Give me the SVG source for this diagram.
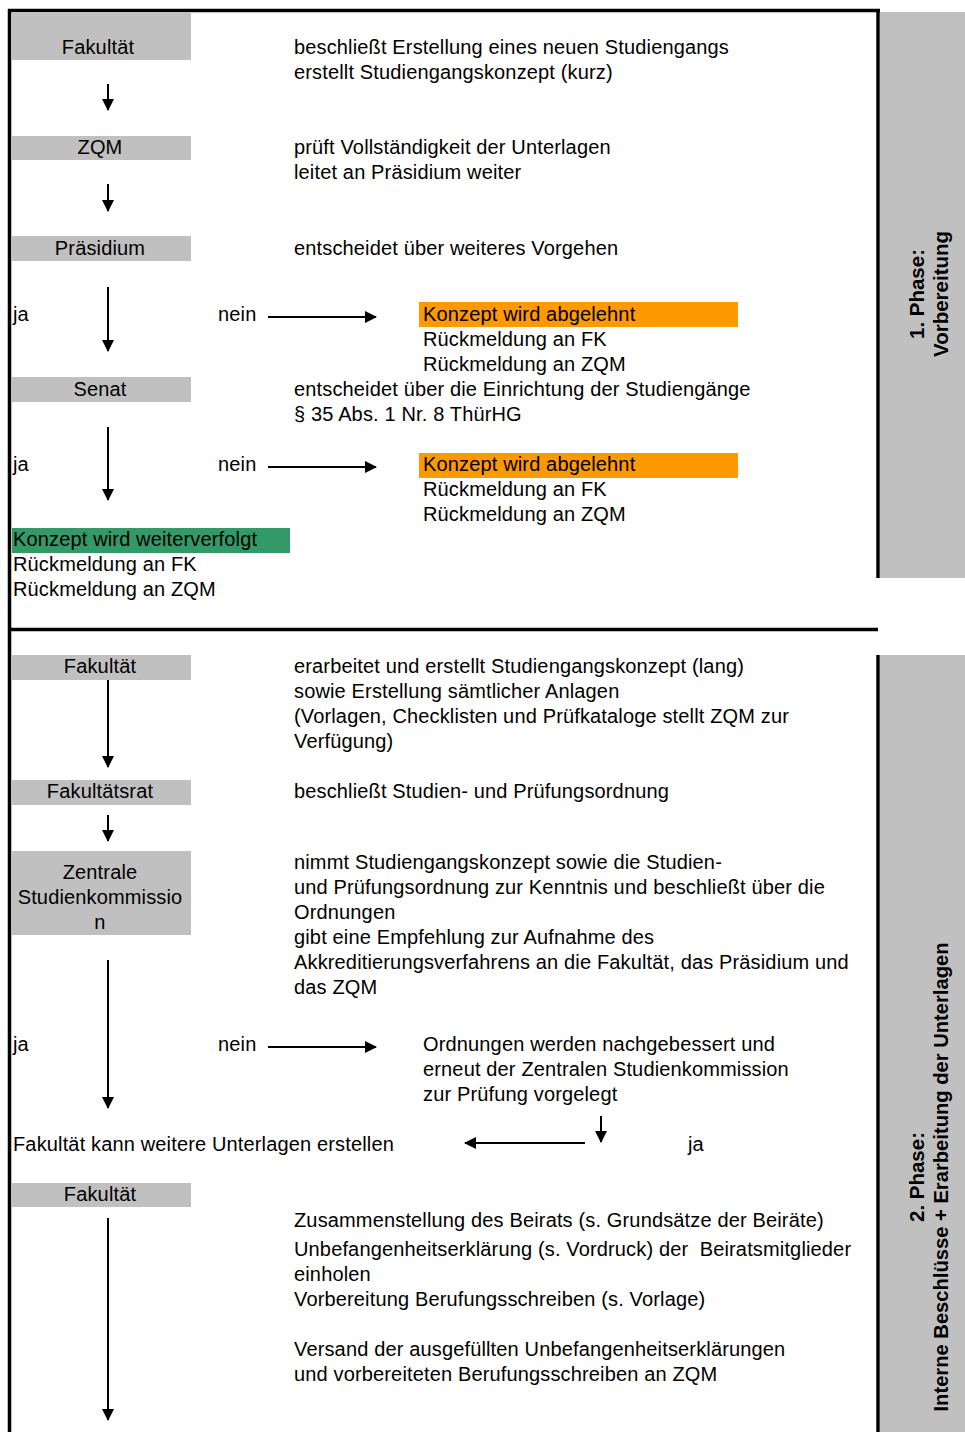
<svg xmlns="http://www.w3.org/2000/svg" width="965" height="1432" viewBox="0 0 965 1432">
<style>
text{font-family:"Liberation Sans",Arial,sans-serif;font-size:20px;letter-spacing:0.15px;fill:#000}
.c{text-anchor:middle}
.g{fill:#c0c0c0}
.side{font-weight:bold;font-size:20.5px;letter-spacing:0;text-anchor:middle}
.ln{stroke:#000;stroke-width:2;fill:none}
.bd{stroke:#000;stroke-width:3.5;fill:none}
</style>
<defs>
<marker id="ah" markerWidth="12" markerHeight="12" viewBox="0 0 12 12" refX="11" refY="6" orient="auto" markerUnits="userSpaceOnUse">
<path d="M0,0 L12,6 L0,12 Z" fill="#000"/>
</marker>
</defs>
<rect width="965" height="1432" fill="#fff"/>
<g id="frame">
<rect class="g" x="880" y="12" width="85" height="566"/>
<rect class="g" x="880" y="655" width="85" height="777"/>
<line class="bd" x1="8" y1="10.5" x2="880" y2="10.5"/>
<line class="bd" x1="9.5" y1="9" x2="9.5" y2="1432"/>
<line class="bd" x1="878" y1="9" x2="878" y2="578"/>
<line class="bd" x1="8" y1="629.5" x2="878" y2="629.5"/>
<line class="bd" x1="878" y1="655" x2="878" y2="1432"/>
</g>
<g id="phase1">
<text class="side" transform="translate(924,294) rotate(-90)">1. Phase:</text>
<text class="side" transform="translate(948,294) rotate(-90)">Vorbereitung</text>
</g>
<g id="phase2">
<text class="side" transform="translate(924,1177) rotate(-90)">2. Phase:</text>
<text class="side" transform="translate(948,1177) rotate(-90)" textLength="469" lengthAdjust="spacingAndGlyphs">Interne Beschlüsse + Erarbeitung der Unterlagen</text>
</g>
<g id="n-fakultaet1">
<rect class="g" x="12" y="12" width="179" height="48"/>
<text class="c" x="98" y="54">Fakultät</text>
</g>
<g id="t1">
<text x="294" y="54">beschließt Erstellung eines neuen Studiengangs</text>
<text x="294" y="79">erstellt Studiengangskonzept (kurz)</text>
</g>
<g id="n-zqm">
<rect class="g" x="12" y="136" width="179" height="24"/>
<text class="c" x="100" y="154">ZQM</text>
</g>
<g id="t2">
<text x="294" y="154">prüft Vollständigkeit der Unterlagen</text>
<text x="294" y="179">leitet an Präsidium weiter</text>
</g>
<g id="n-praesidium">
<rect class="g" x="12" y="236" width="179" height="25"/>
<text class="c" x="100" y="255">Präsidium</text>
</g>
<g id="t3">
<text x="294" y="255">entscheidet über weiteres Vorgehen</text>
</g>
<g id="d1">
<text x="13" y="321">ja</text>
<text x="218" y="321">nein</text>
</g>
<g id="n-abgelehnt1">
<rect x="419" y="302" width="319" height="25" fill="#ff9900"/>
<text x="423" y="321">Konzept wird abgelehnt</text>
<text x="423" y="346">Rückmeldung an FK</text>
<text x="423" y="371">Rückmeldung an ZQM</text>
</g>
<g id="n-senat">
<rect class="g" x="12" y="377" width="179" height="25"/>
<text class="c" x="100" y="396">Senat</text>
</g>
<g id="t4">
<text x="294" y="396">entscheidet über die Einrichtung der Studiengänge</text>
<text x="294" y="421">§ 35 Abs. 1 Nr. 8 ThürHG</text>
</g>
<g id="d2">
<text x="13" y="471">ja</text>
<text x="218" y="471">nein</text>
</g>
<g id="n-abgelehnt2">
<rect x="419" y="453" width="319" height="25" fill="#ff9900"/>
<text x="423" y="471">Konzept wird abgelehnt</text>
<text x="423" y="496">Rückmeldung an FK</text>
<text x="423" y="521">Rückmeldung an ZQM</text>
</g>
<g id="n-weiter">
<rect x="12" y="528" width="278" height="25" fill="#339966"/>
<text x="13" y="546">Konzept wird weiterverfolgt</text>
<text x="13" y="571">Rückmeldung an FK</text>
<text x="13" y="596">Rückmeldung an ZQM</text>
</g>
<g id="n-fakultaet2">
<rect class="g" x="12" y="655" width="179" height="25"/>
<text class="c" x="100" y="673">Fakultät</text>
</g>
<g id="t5">
<text x="294" y="673">erarbeitet und erstellt Studiengangskonzept (lang)</text>
<text x="294" y="698">sowie Erstellung sämtlicher Anlagen</text>
<text x="294" y="723">(Vorlagen, Checklisten und Prüfkataloge stellt ZQM zur</text>
<text x="294" y="748">Verfügung)</text>
</g>
<g id="n-fakrat">
<rect class="g" x="12" y="780" width="179" height="25"/>
<text class="c" x="100" y="798">Fakultätsrat</text>
</g>
<g id="t6">
<text x="294" y="798">beschließt Studien- und Prüfungsordnung</text>
</g>
<g id="n-zsk">
<rect class="g" x="12" y="851" width="179" height="84"/>
<text class="c" x="100" y="879">Zentrale</text>
<text class="c" x="100" y="904">Studienkommissio</text>
<text class="c" x="100" y="929">n</text>
</g>
<g id="t7">
<text x="294" y="869">nimmt Studiengangskonzept sowie die Studien-</text>
<text x="294" y="894">und Prüfungsordnung zur Kenntnis und beschließt über die</text>
<text x="294" y="919">Ordnungen</text>
<text x="294" y="944">gibt eine Empfehlung zur Aufnahme des</text>
<text x="294" y="969">Akkreditierungsverfahrens an die Fakultät, das Präsidium und</text>
<text x="294" y="994">das ZQM</text>
</g>
<g id="d3">
<text x="13" y="1051">ja</text>
<text x="218" y="1051">nein</text>
</g>
<g id="n-nachbessern">
<text x="423" y="1051">Ordnungen werden nachgebessert und</text>
<text x="423" y="1076">erneut der Zentralen Studienkommission</text>
<text x="423" y="1101">zur Prüfung vorgelegt</text>
</g>
<g id="n-weitere">
<text x="13" y="1151">Fakultät kann weitere Unterlagen erstellen</text>
<text x="688" y="1151">ja</text>
</g>
<g id="n-fakultaet3">
<rect class="g" x="12" y="1183" width="179" height="24"/>
<text class="c" x="100" y="1201">Fakultät</text>
</g>
<g id="t8">
<text x="294" y="1227">Zusammenstellung des Beirats (s. Grundsätze der Beiräte)</text>
<text x="294" y="1256" xml:space="preserve">Unbefangenheitserklärung (s. Vordruck) der  Beiratsmitglieder</text>
<text x="294" y="1281">einholen</text>
<text x="294" y="1306">Vorbereitung Berufungsschreiben (s. Vorlage)</text>
<text x="294" y="1356">Versand der ausgefüllten Unbefangenheitserklärungen</text>
<text x="294" y="1381">und vorbereiteten Berufungsschreiben an ZQM</text>
</g>
<g id="connectors">
<line class="ln" x1="108" y1="84" x2="108" y2="110" marker-end="url(#ah)"/>
<line class="ln" x1="108" y1="184" x2="108" y2="211" marker-end="url(#ah)"/>
<line class="ln" x1="108" y1="287" x2="108" y2="351" marker-end="url(#ah)"/>
<line class="ln" x1="268" y1="317" x2="376" y2="317" marker-end="url(#ah)"/>
<line class="ln" x1="108" y1="427" x2="108" y2="500" marker-end="url(#ah)"/>
<line class="ln" x1="268" y1="467" x2="376" y2="467" marker-end="url(#ah)"/>
<line class="ln" x1="108" y1="680" x2="108" y2="767" marker-end="url(#ah)"/>
<line class="ln" x1="108" y1="815" x2="108" y2="841" marker-end="url(#ah)"/>
<line class="ln" x1="108" y1="960" x2="108" y2="1108" marker-end="url(#ah)"/>
<line class="ln" x1="268" y1="1047" x2="376" y2="1047" marker-end="url(#ah)"/>
<line class="ln" x1="601" y1="1116" x2="601" y2="1142" marker-end="url(#ah)"/>
<line class="ln" x1="585" y1="1143" x2="465" y2="1143" marker-end="url(#ah)"/>
<line class="ln" x1="108" y1="1218" x2="108" y2="1420" marker-end="url(#ah)"/>
</g>
</svg>
